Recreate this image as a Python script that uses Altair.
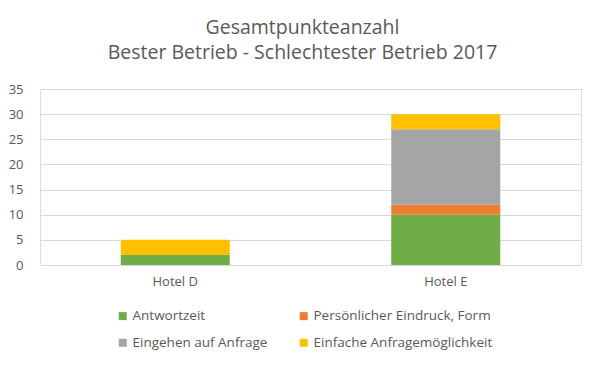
import altair as alt
import pandas as pd

hotels = ["Hotel D", "Hotel E"]
series = ["Antwortzeit", "Persönlicher Eindruck, Form", "Eingehen auf Anfrage", "Einfache Anfragemöglichkeit"]
colors = ["#70ad47", "#ed7d31", "#a5a5a5", "#ffc000"]
antwortzeit = [2, 10]
persoenlich = [0, 2]
eingehen = [0, 15]
einfach = [3, 3]

values = [antwortzeit, persoenlich, eingehen, einfach]
rows = []
for si, (s, vals) in enumerate(zip(series, values)):
    for h, v in zip(hotels, vals):
        rows.append({"Hotel": h, "Serie": s, "Wert": v, "Ordnung": si})
df = pd.DataFrame(rows)

FONT = "Open Sans"
TXT = "#595959"

chart = alt.Chart(df).mark_bar(size=109).encode(
    x=alt.X("Hotel:N", sort=hotels, title=None,
            axis=alt.Axis(labelAngle=0, ticks=False, domain=False, labelPadding=10,
                          labelFontSize=13, labelColor=TXT, labelFont=FONT)),
    y=alt.Y("Wert:Q", stack="zero", title=None,
            scale=alt.Scale(domain=[0, 35], nice=False),
            axis=alt.Axis(values=[0, 5, 10, 15, 20, 25, 30, 35], domain=False, ticks=False,
                          labelPadding=17, gridColor="#d9d9d9", labelFontSize=13,
                          labelColor=TXT, labelFont=FONT)),
    color=alt.Color("Serie:N", sort=series, scale=alt.Scale(domain=series, range=colors),
                    legend=alt.Legend(title=None, orient="none", legendX=76, legendY=220,
                                      columns=2, direction="horizontal", columnPadding=29,
                                      rowPadding=12, labelLimit=400,
                                      symbolType="square", symbolSize=64, symbolStrokeWidth=0,
                                      labelFontSize=13.5, labelColor=TXT, labelFont=FONT,
                                      labelOffset=3)),
    order=alt.Order("Ordnung:Q", sort="ascending"),
).properties(
    width=541, height=176,
    title=alt.TitleParams(["Gesamtpunkteanzahl", "Bester Betrieb - Schlechtester Betrieb 2017"],
                          fontSize=19.5, font=FONT, fontWeight="normal", color=TXT,
                          anchor="middle", offset=20, lineHeight=25, dx=-8),
    autosize=alt.AutoSizeParams(type="none"),
    padding={"left": 32, "top": 81, "right": 11, "bottom": 93},
).configure_view(stroke=None).configure(background="white")

chart.save("out.html", embed_options={"renderer": "svg", "actions": False})
